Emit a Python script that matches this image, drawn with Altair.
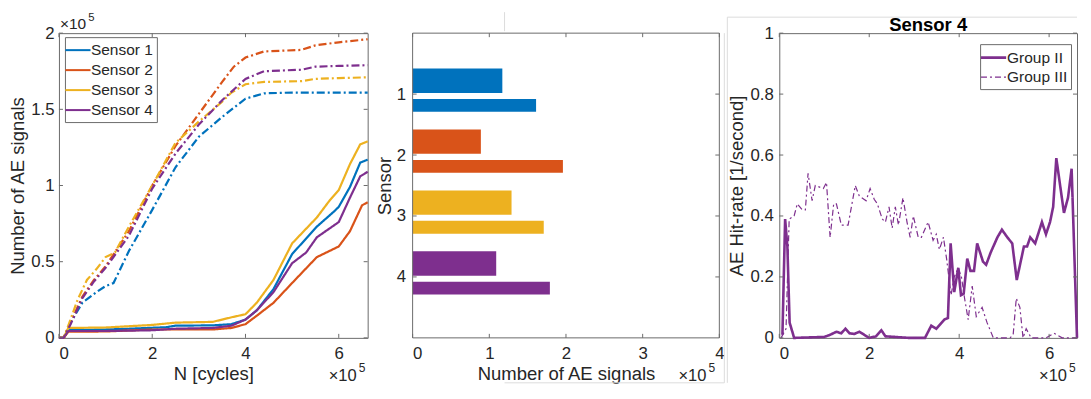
import altair as alt
import pandas as pd

FONT = "Liberation Sans"
TXT = "#262626"
AXC = "#6b6b6b"
SEP = "#dcdcdc"
SENSORS = ["Sensor 1", "Sensor 2", "Sensor 3", "Sensor 4"]
COLORS = ["#0072BD", "#D95319", "#EDB120", "#7E2F8E"]
PURPLE = "#7E2F8E"
DASHDOT = [8, 3, 2, 3]

# ---------------- Panel 1: cumulative number of AE signals (x1e5) vs N (x1e5)
# Group II (solid)
s1_ii_n = [0, 0.1, 0.2, 1.0, 1.5, 2.3, 2.5, 3.3, 3.7, 4.0, 4.24, 4.6, 5.0, 5.53, 5.9, 6.0, 6.24, 6.46, 6.62]
s1_ii_v = [0, 0, 0.05, 0.055, 0.06, 0.07, 0.08, 0.082, 0.09, 0.12, 0.18, 0.32, 0.55, 0.73, 0.83, 0.86, 0.99, 1.15, 1.17]
s2_ii_n = [0, 0.1, 0.2, 1.0, 2.0, 3.3, 3.7, 4.0, 4.24, 4.6, 5.0, 5.53, 6.0, 6.24, 6.5, 6.62]
s2_ii_v = [0, 0, 0.04, 0.042, 0.055, 0.055, 0.065, 0.09, 0.145, 0.23, 0.36, 0.53, 0.6, 0.7, 0.87, 0.89]
s3_ii_n = [0, 0.1, 0.2, 1.0, 2.0, 2.5, 3.3, 3.7, 4.0, 4.24, 4.6, 5.0, 5.53, 5.8, 6.0, 6.24, 6.46, 6.62]
s3_ii_v = [0, 0, 0.065, 0.068, 0.085, 0.1, 0.105, 0.135, 0.155, 0.23, 0.38, 0.62, 0.79, 0.9, 0.97, 1.14, 1.27, 1.29]
s4_ii_n = [0, 0.1, 0.2, 1.0, 2.0, 2.5, 3.3, 3.7, 4.0, 4.24, 4.6, 5.0, 5.3, 5.53, 6.0, 6.24, 6.46, 6.62]
s4_ii_v = [0, 0, 0.045, 0.045, 0.05, 0.06, 0.065, 0.08, 0.12, 0.18, 0.3, 0.49, 0.56, 0.66, 0.76, 0.92, 1.06, 1.09]
# Group III (dash-dot)
s1_iii_n = [0, 0.1, 0.25, 0.5, 0.8, 1.0, 1.17, 1.5, 2.0, 2.5, 3.0, 3.5, 3.75, 4.0, 4.4, 5.0, 6.62]
s1_iii_v = [0, 0, 0.1, 0.23, 0.3, 0.34, 0.36, 0.57, 0.84, 1.12, 1.32, 1.45, 1.51, 1.57, 1.605, 1.61, 1.61]
s2_iii_n = [0, 0.1, 0.25, 0.5, 0.75, 1.0, 1.5, 2.0, 2.5, 3.0, 3.5, 3.75, 4.0, 4.4, 5.2, 5.5, 6.0, 6.62]
s2_iii_v = [0, 0, 0.1, 0.27, 0.38, 0.47, 0.7, 1.0, 1.26, 1.47, 1.68, 1.78, 1.84, 1.88, 1.89, 1.92, 1.94, 1.96]
s3_iii_n = [0, 0.1, 0.2, 0.4, 0.6, 0.8, 1.0, 1.2, 1.5, 2.0, 2.5, 3.0, 3.5, 3.7, 4.0, 4.4, 5.2, 5.5, 6.0, 6.62]
s3_iii_v = [0, 0, 0.08, 0.25, 0.38, 0.45, 0.53, 0.56, 0.73, 1.0, 1.28, 1.42, 1.55, 1.61, 1.665, 1.68, 1.685, 1.7, 1.705, 1.71]
s4_iii_n = [0, 0.1, 0.25, 0.5, 0.75, 1.0, 1.5, 2.0, 2.5, 3.0, 3.5, 3.75, 4.0, 4.4, 5.2, 5.5, 6.0, 6.62]
s4_iii_v = [0, 0, 0.09, 0.26, 0.37, 0.46, 0.67, 0.98, 1.21, 1.4, 1.56, 1.63, 1.7, 1.75, 1.76, 1.78, 1.785, 1.79]

# ---------------- Panel 2: final number of AE signals per sensor (x1e5)
bar_sensor = [1, 2, 3, 4]
bar_group_ii = [1.17, 0.89, 1.29, 1.09]
bar_group_iii = [1.61, 1.96, 1.71, 1.79]

# ---------------- Panel 3: Sensor 4 AE hit-rate [1/second]
g2_n = [0.07, 0.13, 0.18, 0.23, 0.33, 1.0, 1.13, 1.27, 1.38, 1.47, 1.56, 1.67, 1.78, 1.89, 2.0, 2.15,
        2.27, 2.36, 2.58, 2.87, 3.24, 3.38, 3.49, 3.67, 3.75, 3.81, 3.89, 3.98, 4.04, 4.1, 4.18, 4.25,
        4.33, 4.4, 4.53, 4.6, 4.7, 4.85, 4.95, 5.07, 5.18, 5.28, 5.44, 5.51, 5.58, 5.69, 5.84, 5.93,
        6.02, 6.09, 6.16, 6.33, 6.42, 6.5, 6.62]
g2_v = [0.01, 0.39, 0.3, 0.05, 0.0, 0.003, 0.01, 0.02, 0.015, 0.03, 0.015, 0.013, 0.02, 0.01, 0.0, 0.005,
        0.025, 0.005, 0.003, 0.0, 0.0, 0.04, 0.03, 0.06, 0.065, 0.31, 0.15, 0.23, 0.14, 0.145, 0.26, 0.22,
        0.22, 0.31, 0.25, 0.24, 0.28, 0.33, 0.355, 0.33, 0.31, 0.19, 0.3, 0.3, 0.33, 0.31, 0.38, 0.34,
        0.38, 0.43, 0.59, 0.41, 0.46, 0.555, 0.0]
g3_n = [0.04, 0.15, 0.22, 0.33, 0.4, 0.51, 0.58, 0.64, 0.73, 0.8, 0.98, 1.05, 1.13, 1.21, 1.27, 1.38,
        1.53, 1.69, 1.78, 1.93, 2.02, 2.11, 2.18, 2.29, 2.36, 2.44, 2.51, 2.58, 2.65, 2.75, 2.84, 2.91,
        2.98, 3.09, 3.16, 3.31, 3.42, 3.49, 3.56, 3.65, 3.72, 3.77, 3.82, 3.89, 3.98, 4.05, 4.12, 4.2,
        4.29, 4.38, 4.51, 4.62, 4.76, 5.13, 5.2, 5.27, 5.35, 5.42, 5.49, 5.6, 5.93, 6.11, 6.29, 6.62]
g3_v = [0.0, 0.03, 0.39, 0.4, 0.44, 0.42, 0.42, 0.54, 0.45, 0.5, 0.49, 0.51, 0.33, 0.44, 0.44, 0.37,
        0.37, 0.5, 0.465, 0.45, 0.49, 0.455, 0.44, 0.39, 0.38, 0.43, 0.36, 0.43, 0.37, 0.46, 0.38, 0.33,
        0.4, 0.33, 0.33, 0.38, 0.32, 0.34, 0.29, 0.33, 0.26, 0.2, 0.14, 0.2, 0.23, 0.2, 0.13, 0.06,
        0.17, 0.07, 0.1, 0.05, 0.0, 0.0, 0.01, 0.13, 0.1, 0.0, 0.03, 0.0, 0.0, 0.015, 0.0, 0.0]

XMAX = 6.62
W1, W2, W3, H = 309, 307, 298, 305
W2_EXTRA = 15          # extra room right of panel 2 so panel 3 starts further right
TICK = 4
EXP_Y = H + 43         # baseline of the bottom x10^5 labels


def tick_layers(xfield, yfield, xvals, yvals, X, Y, W, Hh, L=TICK):
    xdf = pd.DataFrame({xfield: xvals})
    ydf = pd.DataFrame({yfield: yvals})
    bx = alt.Chart(xdf).mark_rule(color=AXC, strokeWidth=1)
    by = alt.Chart(ydf).mark_rule(color=AXC, strokeWidth=1)
    return [
        bx.encode(x=X, y=alt.value(Hh), y2=alt.value(Hh - L)),
        bx.encode(x=X, y=alt.value(0), y2=alt.value(L)),
        by.encode(y=Y, x=alt.value(0), x2=alt.value(L)),
        by.encode(y=Y, x=alt.value(W), x2=alt.value(W - L)),
    ]


def exponent(x, y, size=16.5):
    d = alt.Chart(pd.DataFrame({"a": [0]}))
    base = d.mark_text(text="\u00d710", align="left", baseline="alphabetic", font=FONT,
                       fontSize=size, color=TXT).encode(x=alt.value(x), y=alt.value(y))
    sup = d.mark_text(text="5", align="left", baseline="alphabetic", font=FONT,
                      fontSize=size * 0.73, color=TXT).encode(x=alt.value(x + size * 1.82),
                                                              y=alt.value(y - size * 0.55))
    return [base, sup]


def rule(x, x2, y, y2, color=SEP):
    return alt.Chart(pd.DataFrame({"a": [0]})).mark_rule(color=color, strokeWidth=1).encode(
        x=alt.value(x), x2=alt.value(x2), y=alt.value(y), y2=alt.value(y2))


AXIS_X = dict(labelPadding=8, titlePadding=2)

# ---------- Panel 1
rows = []
curves = [
    ("Sensor 1", "II", s1_ii_n, s1_ii_v), ("Sensor 2", "II", s2_ii_n, s2_ii_v),
    ("Sensor 3", "II", s3_ii_n, s3_ii_v), ("Sensor 4", "II", s4_ii_n, s4_ii_v),
    ("Sensor 1", "III", s1_iii_n, s1_iii_v), ("Sensor 2", "III", s2_iii_n, s2_iii_v),
    ("Sensor 3", "III", s3_iii_n, s3_iii_v), ("Sensor 4", "III", s4_iii_n, s4_iii_v),
]
for s, g, ns, vs in curves:
    for n, v in zip(ns, vs):
        rows.append({"N": n, "v": v, "sensor": s, "group": g})
df1 = pd.DataFrame(rows)

X1 = alt.X("N:Q", scale=alt.Scale(domain=[0, XMAX], nice=False, zero=False),
           axis=alt.Axis(values=[0, 2, 4, 6], format="d", title="N [cycles]", **AXIS_X))
Y1 = alt.Y("v:Q", scale=alt.Scale(domain=[0, 2], nice=False),
           axis=alt.Axis(values=[0, 0.5, 1, 1.5, 2], format="~g", title="Number of AE signals",
                         labelPadding=5, titlePadding=3))
lines1 = alt.Chart(df1).mark_line(strokeWidth=2.2).encode(
    x=X1, y=Y1,
    color=alt.Color("sensor:N", scale=alt.Scale(domain=SENSORS, range=COLORS),
                    legend=alt.Legend(title=None, orient="none", legendX=6, legendY=4,
                                      strokeColor=AXC, fillColor="white", padding=3, rowPadding=1,
                                      symbolType="M-1.4,0H1.4", symbolSize=324, symbolStrokeWidth=2,
                                      labelFontSize=15.5, labelOffset=3, labelFont=FONT,
                                      labelColor=TXT)),
    strokeDash=alt.StrokeDash("group:N", scale=alt.Scale(domain=["II", "III"], range=[[1, 0], DASHDOT]),
                              legend=None),
)
p1 = alt.layer(lines1, *tick_layers("N", "v", [0, 2, 4, 6], [0, 0.5, 1, 1.5, 2], X1, Y1, W1, H),
               *exponent(1, -4, 15.5), *exponent(270, EXP_Y)).properties(width=W1, height=H)

# ---------- Panel 2
B_II = (-0.42, -0.02)
B_III = (0.08, 0.29)
rows = []
for s, a, b in zip(bar_sensor, bar_group_ii, bar_group_iii):
    rows.append({"sensor": SENSORS[s - 1], "x0": 0, "v": a, "y0": s + B_II[0], "y1": s + B_II[1]})
    rows.append({"sensor": SENSORS[s - 1], "x0": 0, "v": b, "y0": s + B_III[0], "y1": s + B_III[1]})
df2 = pd.DataFrame(rows)
W2_TOTAL = W2 + W2_EXTRA
X2 = alt.X("x0:Q", scale=alt.Scale(domain=[0, 4 * W2_TOTAL / W2], nice=False, zero=False),
           axis=alt.Axis(values=[0, 1, 2, 3, 4], format="d", title="Number of AE signals",
                         titleX=W2 / 2, **AXIS_X))
Y2 = alt.Y("y0:Q", scale=alt.Scale(domain=[0, 5], nice=False, reverse=True),
           axis=alt.Axis(values=[1, 2, 3, 4], format="d", title="Sensor", labelPadding=7, titlePadding=2))
bars = alt.Chart(df2).mark_rect().encode(
    x=X2, x2="v:Q", y=Y2, y2="y1:Q",
    color=alt.Color("sensor:N", scale=alt.Scale(domain=SENSORS, range=COLORS), legend=None),
)
p2 = alt.layer(bars, *tick_layers("x0", "y0", [0, 1, 2, 3, 4], [1, 2, 3, 4], X2, Y2, W2, H),
               rule(0, W2, 0, 0, AXC), rule(0, W2, H, H, AXC), rule(0, 0, 0, H, AXC), rule(W2, W2, 0, H, AXC),
               *exponent(266, EXP_Y),
               rule(92, 92, -21, -2), rule(W2 + 5, W2 + 5, 0, H + 45), rule(92, W2 + 5, H + 45, H + 45)
               ).properties(width=W2_TOTAL, height=H, view=alt.ViewBackground(stroke="transparent"))

# ---------- Panel 3
rows = [{"N": n, "v": v, "group": "Group III"} for n, v in zip(g3_n, g3_v)]
rows += [{"N": n, "v": v, "group": "Group II"} for n, v in zip(g2_n, g2_v)]
df3 = pd.DataFrame(rows)
X3 = alt.X("N:Q", scale=alt.Scale(domain=[0, XMAX], nice=False, zero=False),
           axis=alt.Axis(values=[0, 2, 4, 6], format="d", title=None, labelPadding=8))
Y3 = alt.Y("v:Q", scale=alt.Scale(domain=[0, 1], nice=False),
           axis=alt.Axis(values=[0, 0.2, 0.4, 0.6, 0.8, 1], format="~g", title="AE Hit-rate [1/second]",
                         labelPadding=6, titlePadding=3))
leg3 = dict(title=None, orient="none", legendX=201, legendY=11, strokeColor=AXC, fillColor="white",
            padding=3, rowPadding=1, symbolType="M-1.4,0H1.4", symbolSize=324,
            symbolStrokeColor=PURPLE, labelFontSize=15.5, labelOffset=3, labelFont=FONT, labelColor=TXT)
lines3 = alt.Chart(df3).mark_line(color=PURPLE).encode(
    x=X3, y=Y3,
    strokeDash=alt.StrokeDash("group:N", scale=alt.Scale(domain=["Group II", "Group III"],
                                                         range=[[1, 0], [6, 3, 2, 3]]), legend=alt.Legend(**leg3)),
    strokeWidth=alt.StrokeWidth("group:N", scale=alt.Scale(domain=["Group II", "Group III"], range=[2.6, 1.2]),
                                legend=alt.Legend(**leg3)),
)
title3 = alt.Chart(pd.DataFrame({"a": [0]})).mark_text(
    text="Sensor 4", font=FONT, fontSize=18.5, fontWeight="bold", color="black",
    align="center", baseline="alphabetic").encode(x=alt.value(W3 / 2), y=alt.value(-2))
p3 = alt.layer(lines3, *tick_layers("N", "v", [0, 2, 4, 6], [0, 0.2, 0.4, 0.6, 0.8, 1], X3, Y3, W3, H),
               *exponent(260, EXP_Y), title3,
               rule(-52, -52, -16, H + 45), rule(-52, W3, -16, -16)
               ).properties(width=W3, height=H)

res = dict(color="independent", strokeDash="independent", strokeWidth="independent")
chart = alt.hconcat(p1, p2, p3, spacing=45, bounds="flush").resolve_scale(**res).resolve_legend(**res)
chart = chart.configure_view(stroke=AXC, strokeWidth=1).configure_axis(
    grid=False, ticks=False, domain=False, labelFont=FONT, titleFont=FONT, labelFontSize=16.8,
    titleFontSize=18.5, labelColor=TXT, titleColor=TXT, titleFontWeight="normal",
).properties(padding={"left": 0, "top": 2, "right": 0, "bottom": 0})

chart.save("out.html", embed_options={"renderer": "svg", "actions": False})
